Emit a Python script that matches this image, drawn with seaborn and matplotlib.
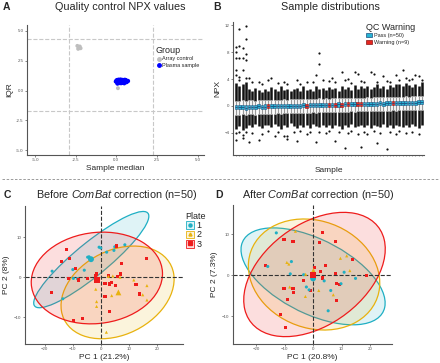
import pandas as pd
import seaborn as sns
import matplotlib.pyplot as plt
from matplotlib.patches import Ellipse, Patch
from matplotlib.lines import Line2D
from matplotlib.colors import to_rgba

# ---------------- data ----------------
# A: QC scatter
control_x = [-2.4, -2.3, -2.25, -2.35, -2.2, 0.1]
control_y = [3.75, 3.6, 3.7, 3.5, 3.55, 0.2]
plasma_x = [0.02, 0.08, 0.12, 0.18, 0.22, 0.28, 0.31, 0.35, 0.4, 0.45,
            0.5, 0.55, 0.6, 0.66, 0.7, 0.05, 0.1, 0.15, 0.2, 0.25,
            0.3, 0.36, 0.42, 0.47, 0.52, 0.58, 0.63, -0.04, 0.0, 0.06,
            0.14, 0.19, 0.24, 0.33, 0.38, 0.44, 0.49, 0.54, 0.62, 0.68,
            0.11, 0.17, 0.26, 0.29, 0.37, 0.41, 0.46, 0.57, 0.73, 0.03]
plasma_y = [0.72, 0.65, 0.8, 0.7, 0.85, 0.75, 0.68, 0.82, 0.78, 0.88,
            0.74, 0.8, 0.86, 0.77, 0.83, 0.9, 0.6, 0.74, 0.62, 0.79,
            0.9, 0.7, 0.66, 0.84, 0.92, 0.71, 0.79, 0.76, 0.85, 0.58,
            0.93, 0.81, 0.67, 0.63, 0.91, 0.73, 0.6, 0.87, 0.69, 0.75,
            0.7, 0.88, 0.94, 0.61, 0.76, 0.82, 0.69, 0.9, 0.8, 0.78]
median_cut = [-2.9, 2.25]
iqr_cut = [4.35, -1.75]

# B: per-sample box stats
med = [-0.15, -0.2, -0.1, -0.25, -0.12, -0.1, -0.15, -0.05, -0.1, -0.08,
       -0.05, -0.02, -0.06, 0.0, -0.03, 0.02, 0.0, 0.05, 0.03, 0.06,
       0.05, 0.08, 0.06, 0.1, 0.12, 0.1, 0.15, 0.13, 0.18, 0.16,
       0.2, 0.18, 0.22, 0.2, 0.25, 0.23, 0.27, 0.25, 0.3, 0.28,
       0.3, 0.33, 0.3, 0.35, 0.33, 0.38, 0.36, 0.4, 0.38, 0.42,
       0.4, 0.45, 0.43, 0.48, 0.46, 0.5, 0.48, 0.52, 0.55]
q1 = [-0.45, -0.5, -0.42, -0.55, -0.4, -0.38, -0.45, -0.35, -0.4, -0.38,
      -0.35, -0.32, -0.36, -0.3, -0.33, -0.28, -0.3, -0.25, -0.27, -0.24,
      -0.25, -0.22, -0.24, -0.2, -0.18, -0.2, -0.15, -0.17, -0.12, -0.14,
      -0.1, -0.12, -0.08, -0.1, -0.05, -0.07, -0.03, -0.05, 0.0, -0.02,
      0.0, 0.03, 0.0, 0.05, 0.03, 0.08, 0.06, 0.1, 0.08, 0.12,
      0.1, 0.15, 0.13, 0.18, 0.16, 0.2, 0.18, 0.22, 0.25]
q3 = [0.15, 0.12, 0.2, 0.08, 0.18, 0.2, 0.15, 0.25, 0.2, 0.22,
      0.25, 0.28, 0.24, 0.3, 0.27, 0.32, 0.3, 0.35, 0.33, 0.36,
      0.35, 0.38, 0.36, 0.4, 0.42, 0.4, 0.45, 0.43, 0.48, 0.46,
      0.5, 0.48, 0.52, 0.5, 0.55, 0.53, 0.57, 0.55, 0.6, 0.58,
      0.6, 0.63, 0.6, 0.65, 0.63, 0.68, 0.66, 0.7, 0.68, 0.72,
      0.7, 0.75, 0.73, 0.78, 0.76, 0.8, 0.78, 0.82, 0.85]
whis_hi = [0.8, 0.75, 0.85, 0.7, 0.85, 0.85, 0.8, 0.9, 0.85, 0.9,
           0.9, 0.95, 0.9, 0.95, 0.95, 1.0, 0.95, 1.0, 1.0, 1.05,
           1.0, 1.05, 1.0, 1.1, 1.1, 1.05, 1.15, 1.1, 1.15, 1.1,
           1.15, 1.15, 1.2, 1.15, 1.2, 1.2, 1.25, 1.2, 1.25, 1.25,
           1.25, 1.3, 1.25, 1.3, 1.3, 1.35, 1.3, 1.35, 1.35, 1.4,
           1.35, 1.4, 1.4, 1.45, 1.4, 1.45, 1.45, 1.5, 1.5]
whis_lo = [-1.3, -1.35, -1.25, -1.4, -1.25, -1.25, -1.3, -1.2, -1.25, -1.2,
           -1.2, -1.15, -1.2, -1.1, -1.15, -1.1, -1.1, -1.05, -1.1, -1.05,
           -1.05, -1.0, -1.05, -1.0, -0.95, -1.0, -0.95, -0.95, -0.9, -0.95,
           -0.9, -0.9, -0.85, -0.9, -0.85, -0.85, -0.8, -0.85, -0.8, -0.8,
           -0.8, -0.75, -0.8, -0.75, -0.75, -0.7, -0.75, -0.7, -0.7, -0.65,
           -0.7, -0.65, -0.65, -0.6, -0.65, -0.6, -0.6, -0.55, -0.55]
dense_top = [3.4, 3.0, 3.2, 3.6, 2.6, 2.2, 2.7, 2.4, 2.1, 2.6,
             2.3, 2.8, 2.5, 2.2, 2.9, 2.4, 2.6, 2.2, 2.5, 2.7,
             2.3, 2.9, 2.4, 2.6, 2.2, 3.0, 2.5, 2.7, 2.4, 2.8,
             2.5, 2.7, 2.3, 3.0, 2.6, 2.8, 2.4, 3.1, 2.6, 2.9,
             2.7, 3.0, 2.5, 2.8, 3.2, 2.7, 3.0, 2.6, 3.1, 2.8,
             3.2, 3.3, 2.9, 3.4, 3.1, 2.8, 3.3, 3.0, 3.5]
dense_bot = [-3.4, -3.0, -3.6, -3.3, -2.9, -3.1, -2.7, -3.0, -3.3, -2.8,
             -2.9, -3.2, -2.7, -3.0, -3.4, -2.8, -3.1, -2.6, -3.0, -3.3,
             -2.8, -3.1, -2.9, -3.3, -2.7, -3.0, -3.2, -2.8, -3.1, -2.9,
             -3.3, -2.8, -3.0, -3.4, -2.9, -3.1, -2.7, -3.2, -3.0, -2.8,
             -3.1, -2.9, -3.3, -2.8, -3.0, -3.2, -2.7, -3.1, -2.9, -3.3,
             -2.8, -3.0, -3.2, -2.9, -3.1, -2.7, -3.0, -3.3, -2.9]
warning_idx = [10, 22, 29, 31, 33, 35, 38, 39, 49]
out_x = [0, 0, 0, 0, 0, 1, 1, 1, 1, 1, 2, 2, 2, 3, 3, 3, 3, 3,
         4, 5, 7, 8, 10, 11, 13, 15, 16, 19, 20, 22, 24,
         25, 26, 26, 27, 29, 30, 31, 33, 34, 35, 36, 37, 38, 39, 40,
         42, 43, 44, 46, 47, 48, 50, 51, 52, 53, 54, 55, 56, 57, 58,
         0, 0, 1, 2, 2, 3, 4, 5, 7, 8, 10, 12, 13, 15, 16, 16, 18, 19,
         20, 22, 23, 25, 26, 28, 29, 31, 32, 34, 35, 36, 38, 39, 40, 41,
         43, 44, 45, 47, 48, 50, 51, 53, 55, 57]
out_y = [8.8, 8.0, 7.1, 5.3, 4.6, 11.4, 9.0, 7.1, 4.3, 3.8, 8.6, 7.1, 5.3,
         11.9, 9.9, 7.7, 6.9, 4.2,
         4.1, 3.6, 3.5, 3.2, 3.85, 4.1, 3.4, 3.5, 3.2, 3.85, 3.3, 3.6, 3.5,
         4.6, 6.3, 7.9, 3.8, 3.7, 4.1, 3.5, 5.1, 3.8, 4.0, 3.4, 5.1, 4.8,
         3.7, 3.5, 5.0, 4.8, 3.6, 4.4, 3.7, 3.6, 4.6, 3.9, 5.3, 4.2, 3.8,
         4.0, 4.6, 4.4, 3.9,
         -5.1, -4.0, -3.9, -4.8, -4.3, -3.9, -5.3, -4.0, -5.0, -4.2, -3.8,
         -4.5, -3.9, -4.4, -4.9, -4.4, -3.9, -5.2, -3.8, -4.1, -3.9, -5.3,
         -3.9, -4.0, -3.7, -5.2, -3.9, -6.2, -4.0, -3.8, -4.2, -6.1, -3.9,
         -4.1, -3.8, -5.5, -4.0, -6.4, -3.9, -4.2, -3.8, -4.0, -3.9, -4.1]

# C: PCA before ComBat
pcC_x = [-17.4, -10.0, -5.9, -9.8, -13.6, -4.7, -4.2, -3.9, -0.6, 0.0,
         2.1, 5.0, 4.7, 8.6, -8.3,
         -12.2, -13.9, -11.2, -8.9, -11.5, -7.9, -4.7, -17.5, -1.4, 2.7,
         1.5, 3.0, 3.8, 6.0, 7.1, 7.4, 5.3, 12.6, 16.5, 13.8, 1.5, 3.2,
         -6.5, -9.7, 5.7, -2.0,
         -1.8, -1.5, -1.5, 3.9, 2.7, 4.3, 6.9, 11.8, 16.5, 16.5, 15.0, 2.0]
pcC_y = [1.5, 1.9, 1.75, -0.3, -5.4, 5.0, 5.1, 4.7, 7.5, 7.3,
         6.25, 7.6, 6.7, 8.1, -0.4,
         7.0, 3.9, 4.75, 2.2, -0.3, -0.7, -0.4, -3.9, 0.8, 0.5,
         -1.5, -1.7, -1.25, 0.25, 0.8, 3.5, -2.0, -1.9, 4.6, -4.2, -4.8, -8.6,
         -10.4, -10.8, 7.8, 0.5,
         -3.0, -6.1, -7.3, -4.6, 0.2, 0.3, 0.0, -0.7, -2.1, -5.7, -4.4, -13.75]
pcC_plate = ['1'] * 15 + ['3'] * 26 + ['2'] * 12
centC_x = [-3.5, 6.3, -1.2]
centC_y = [4.5, -3.8, -0.7]

# D: PCA after ComBat
pcD_x = [3.3, 2.35, 8.0, -10.2, -7.05, -16.7, 0.6, 4.5, 2.7, 13.8, 8.0, 18.8,
         3.3, -3.5, 8.2, 9.4, -10.2, -7.05, -6.8, -9.1, -0.8, 8.2, -11.5, -9.8,
         -15.9, -12.9, -7.6, -8.0, -3.3, -2.35, -1.4, 3.9, 6.2, 5.3, 10.9, 9.8, 14.9,
         -6.2, -9.2, -8.5, -2.6, 0.35, -8.2, -2.7, 2.0, 7.1, 9.6, 11.8, 12.9]
pcD_y = [10.4, 8.0, 8.2, 8.65, 8.1, 2.3, 1.9, 2.4, 0.9, 3.9, 0.3, -0.2,
         -0.7, -1.4, -2.0, -2.3, -3.35, -3.2, -4.3, -6.0, -3.75, -6.2, -9.5, -12.7,
         2.1, 10.3, 3.3, 0.3, 0.1, -2.9, -3.6, -1.4, -3.75, -8.7, 0.7, -2.1, -0.8,
         10.7, 3.1, 2.7, 0.2, 0.65, -2.9, -5.2, -3.75, -4.8, 4.1, 4.7, 1.1]
pcD_plate = ['3'] * 24 + ['1'] * 13 + ['2'] * 12
centD_x = [0.0, 0.1, 0.0]
centD_y = [-0.8, 1.0, 0.0]

# ellipses: centre x, centre y, semi-axis a, semi-axis b, angle (plates 1, 2, 3)
ellC_cx = [-3.4, 6.0, -1.4]
ellC_cy = [4.4, -3.8, -0.2]
ellC_a = [23.4, 20.6, 23.5]
ellC_b = [4.6, 10.9, 11.4]
ellC_ang = [29, 13, 3.4]
ellD_cx = [0.0, 0.35, 0.5]
ellD_cy = [-0.3, 0.15, 0.15]
ellD_a = [26.25, 23.2, 25.9]
ellD_b = [9.5, 13.3, 13.25]
ellD_ang = [-16.7, -7.7, 19.3]

plates = ['1', '2', '3']
plate_colors = {'1': '#1FAFC4', '2': '#E8B20E', '3': '#EE1C1C'}
plate_markers = {'1': 'o', '2': '^', '3': 's'}

# ---------------- style ----------------
sns.set_theme(style="white")
plt.rcParams['font.family'] = ['Liberation Sans', 'DejaVu Sans']
plt.rcParams['mathtext.fontset'] = 'custom'
plt.rcParams['mathtext.rm'] = 'Liberation Sans'
plt.rcParams['mathtext.it'] = 'Liberation Sans:italic'

W, H = 440, 363
fig = plt.figure(figsize=(W / 100, H / 100), dpi=100)


def box(l, t, r, b):
    return [l / W, 1 - b / H, (r - l) / W, (b - t) / H]


def style(ax):
    for s in ['top', 'right']:
        ax.spines[s].set_visible(False)
    for s in ['left', 'bottom']:
        ax.spines[s].set_color('#555555')
        ax.spines[s].set_linewidth(0.8)
    ax.tick_params(labelsize=3.2, length=1.5, width=0.5, color='#555555',
                   labelcolor='#555555', pad=1, left=True, bottom=True)


# ---------------- A ----------------
axA = fig.add_axes(box(27, 25, 204, 155))
dfA = pd.DataFrame({
    'median': control_x + plasma_x,
    'iqr': control_y + plasma_y,
    'group': ['Array control'] * len(control_x) + ['Plasma sample'] * len(plasma_x),
})
grp_colors = {'Array control': '#BEBEBE', 'Plasma sample': '#0000FF'}
for v in median_cut:
    axA.axvline(v, ls='--', color='#C8C8C8', lw=0.8, zorder=0)
for v in iqr_cut:
    axA.axhline(v, ls='--', color='#C8C8C8', lw=0.8, zorder=0)
sns.scatterplot(data=dfA, x='median', y='iqr', hue='group', palette=grp_colors,
                s=8, linewidth=0, ax=axA, legend=False)
axA.set_xlim(-5.5, 5.4)
axA.set_ylim(-5.4, 5.5)
axA.set_xticks([-5, -2.5, 0, 2.5, 5])
axA.set_xticklabels(['-5.0', '-2.5', '0.0', '2.5', '5.0'])
axA.set_yticks([-5, -2.5, 0, 2.5, 5])
axA.set_yticklabels(['-5.0', '-2.5', '0.0', '2.5', '5.0'])
axA.set_xlabel('Sample median', fontsize=6, labelpad=2)
axA.set_ylabel('IQR', fontsize=6, labelpad=2)
style(axA)
hA = [Line2D([], [], marker='o', ls='', color=c, ms=2.5) for c in grp_colors.values()]
axA.legend(hA, list(grp_colors.keys()), title='Group', frameon=False, fontsize=4,
           title_fontsize=6.5, loc='upper left', bbox_to_anchor=(153 / W, 1 - 43 / H),
           bbox_transform=fig.transFigure, handletextpad=0.2, labelspacing=0.3,
           borderpad=0, handlelength=1, alignment='left')

# ---------------- B ----------------
axB = fig.add_axes(box(233, 22, 424, 155))
pos = list(range(len(med)))
axB.vlines(pos, whis_hi, dense_top, color='#111111', lw=1.8, zorder=2)
axB.vlines(pos, dense_bot, whis_lo, color='#111111', lw=1.8, zorder=2)
axB.scatter(out_x, out_y, s=2.5, color='#111111', linewidths=0, zorder=2)
stats = [dict(med=m, q1=a, q3=b, whislo=wl, whishi=wh, fliers=[])
         for m, a, b, wl, wh in zip(med, q1, q3, whis_lo, whis_hi)]
res = axB.bxp(stats, positions=pos, widths=0.8, patch_artist=True, showcaps=False,
              showfliers=False, whiskerprops=dict(color='#9A9A9A', lw=0.9),
              medianprops=dict(color='#1B4F80', lw=0.6), boxprops=dict(lw=0.4),
              manage_ticks=False)
for i, p in enumerate(res['boxes']):
    p.set_zorder(3)
    if i in warning_idx:
        p.set_facecolor('#E5261F')
        p.set_edgecolor('#8A1414')
    else:
        p.set_facecolor('#27B4D3')
        p.set_edgecolor('#1B4F80')
for ln in res['medians']:
    ln.set_zorder(4)
axB.set_xlim(-1.0, 58.7)
axB.set_ylim(-7.3, 12.5)
axB.set_xticks(pos)
axB.set_xticklabels([])
axB.set_yticks([-4, 0, 4, 8, 12])
axB.set_xlabel('Sample', fontsize=6, labelpad=7)
axB.set_ylabel('NPX', fontsize=6, labelpad=2)
style(axB)
axB.tick_params(axis='x', length=1, width=0.4)
hB = [Patch(facecolor='#27B4D3', edgecolor='#1B4F80', lw=0.5),
      Patch(facecolor='#E5261F', edgecolor='#8A1414', lw=0.5)]
axB.legend(hB, ['Pass (n=50)', 'Warning (n=9)'], title='QC Warning', frameon=False,
           fontsize=4, title_fontsize=6.5, loc='upper left',
           bbox_to_anchor=(363 / W, 1 - 20 / H), bbox_transform=fig.transFigure,
           handletextpad=0.3, labelspacing=0.25, borderpad=0, handlelength=1.2,
           handleheight=0.8, alignment='left')


# ---------------- C / D ----------------
def pca_panel(ax, xs, ys, pl, cx, cy, e_cx, e_cy, e_a, e_b, e_ang):
    for k, p in enumerate(plates):
        c = plate_colors[p]
        ax.add_patch(Ellipse((e_cx[k], e_cy[k]), 2 * e_a[k], 2 * e_b[k], angle=e_ang[k],
                             facecolor=to_rgba(c, 0.14), edgecolor=c, lw=0.9, zorder=1))
    ax.axhline(0, ls='--', color='#333333', lw=0.8, zorder=2)
    ax.axvline(0, ls='--', color='#333333', lw=0.8, zorder=2)
    df = pd.DataFrame({'x': xs, 'y': ys, 'plate': pl})
    sns.scatterplot(data=df, x='x', y='y', hue='plate', style='plate',
                    palette=plate_colors, markers=plate_markers, s=5, linewidth=0,
                    ax=ax, legend=False, zorder=3)
    dfc = pd.DataFrame({'x': cx, 'y': cy, 'plate': plates})
    sns.scatterplot(data=dfc, x='x', y='y', hue='plate', style='plate',
                    palette=plate_colors, markers=plate_markers, s=18, linewidth=0,
                    ax=ax, legend=False, zorder=4)
    ax.set_xticks([-20, -10, 0, 10, 20])
    ax.set_yticks([-10, 0, 10])
    style(ax)


axC = fig.add_axes(box(25, 206, 183, 344))
pca_panel(axC, pcC_x, pcC_y, pcC_plate, centC_x, centC_y,
          ellC_cx, ellC_cy, ellC_a, ellC_b, ellC_ang)
axC.set_xlim(-27.1, 29.4)
axC.set_ylim(-16.7, 17.8)
axC.set_xlabel('PC 1 (21.2%)', fontsize=6, labelpad=2)
axC.set_ylabel('PC 2 (8%)', fontsize=6, labelpad=3)

hC = [(Patch(facecolor=to_rgba(plate_colors[p], 0.15), edgecolor=plate_colors[p], lw=0.6),
       Line2D([], [], marker=plate_markers[p], ls='', color=plate_colors[p], ms=2.2))
      for p in plates]
axC.legend(hC, plates, title='Plate', frameon=False, fontsize=6.5, title_fontsize=6.5,
           loc='upper left', bbox_to_anchor=(181 / W, 1 - 207 / H),
           bbox_transform=fig.transFigure, handletextpad=0.3, labelspacing=0.05,
           borderpad=0, handlelength=0.9, handleheight=0.9, alignment='left')

axD = fig.add_axes(box(233, 205, 392, 344))
pca_panel(axD, pcD_x, pcD_y, pcD_plate, centD_x, centD_y,
          ellD_cx, ellD_cy, ellD_a, ellD_b, ellD_ang)
axD.set_xlim(-28.1, 27.7)
axD.set_ylim(-16.8, 17.1)
axD.set_xlabel('PC 1 (20.8%)', fontsize=6, labelpad=2)
axD.set_ylabel('PC 2 (7.3%)', fontsize=6, labelpad=3)

# ---------------- titles, letters, separator ----------------
fig.text(120 / W, 1 - 7 / H, 'Quality control NPX values', ha='center', va='center', fontsize=7.8)
fig.text(330 / W, 1 - 7 / H, 'Sample distributions', ha='center', va='center', fontsize=7.8)
fig.text(117 / W, 1 - 195 / H, r'Before $\mathit{ComBat}$ correction (n=50)',
         ha='center', va='center', fontsize=7.8)
fig.text(318 / W, 1 - 195 / H, r'After $\mathit{ComBat}$ correction (n=50)',
         ha='center', va='center', fontsize=7.8)
for lab, x, y in [('A', 6, 7), ('B', 217, 7), ('C', 7, 195), ('D', 219, 195)]:
    fig.text(x / W, 1 - y / H, lab, ha='center', va='center', fontsize=7.5, fontweight='bold')
fig.add_artist(Line2D([0.005, 0.995], [1 - 179 / H] * 2, transform=fig.transFigure,
                      ls='--', color='#8C8C8C', lw=0.6, dashes=(3, 2)))

plt.savefig('out.png', dpi=100)
